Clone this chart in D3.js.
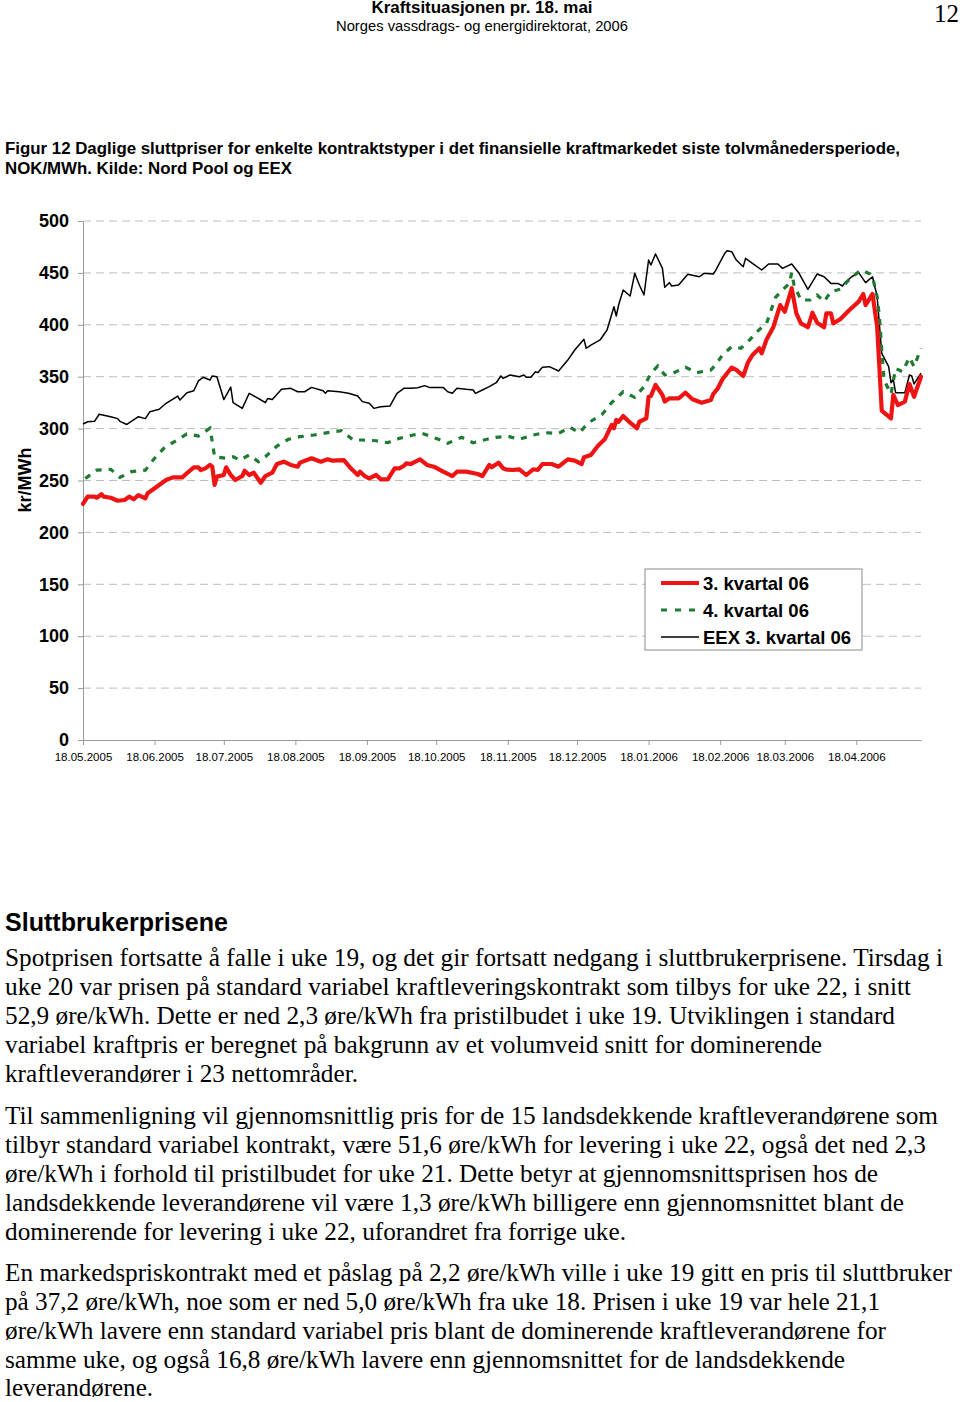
<!DOCTYPE html>
<html>
<head>
<meta charset="utf-8">
<script src="https://cdn.jsdelivr.net/npm/d3@7/dist/d3.min.js"></script>
<style>
  html, body { margin: 0; padding: 0; background: #fff; }
  svg { display: block; }
</style>
</head>
<body>
<script>
// ---------- DATA ----------
// x values: days after 18.05.2005; y values: NOK/MWh
const startDate = "18.05.2005";
const endDate = "16.05.2006";

const eexDays = [0,2,5,7,12,15,16,19,24,27,29,33,36,40,41,42,45,48,50,52,55,56,58,61,64,65,69,72,76,79,80,82,86,90,93,96,99,104,105,106,111,115,119,121,124,126,129,133,136,139,142,145,148,150,156,158,160,162,166,169,170,173,176,179,181,182,185,189,191,192,194,196,197,199,202,206,210,213,217,218,220,224,227,230,231,232,234,237,239,241,243,245,246,248,251,252,254,255,258,262,267,269,273,274,278,279,281,283,286,287,290,294,297,301,303,307,310,314,318,321,324,327,329,330,333,336,339,342,344,346,349,350,351,352,356,358,359,360,363];
const eexValues = [304.4,306.6,307,313.8,311.5,309.6,307,304,311.5,309.6,316.3,318.6,324.4,329.8,331.4,327.5,334.6,336.5,346,349.4,346.8,350.7,350,328,340,325,319.5,334,329,325,329,328,337.8,338.8,335.5,335.5,339.7,336.5,334,336.5,335.5,334,331.4,326,324.4,319.5,321,321.8,334,338.8,338.8,339.4,341.4,339.7,339.7,335.5,334,338.8,337.8,337.2,334,337.2,340.4,344.2,350.7,348.4,351.6,350,351.6,349.4,349.4,354.8,353.9,359,359.7,355.5,366,375.7,386,377.4,380.5,385.4,395,417.4,408.5,419,433.5,427.7,449.6,438.3,428.7,462.4,457.6,468.2,454.4,436.1,440.6,437.4,438.3,448.6,446.3,449.6,448.9,452.1,468.9,471.4,470.4,462.4,456,464,459.2,452.8,458.6,458.6,454.4,458.6,450.2,434.2,448.9,446.3,439.9,439.9,437.4,440.6,446.3,450.2,440.6,446.3,427,372.5,359.7,344.2,347.5,334.6,334.6,351.6,350.7,343,353.3];

const q3Days = [0,2,5,6,8,9,12,15,18,20,22,24,27,28,30,33,36,39,43,45,48,50,51,53,55,56,57,58,61,62,64,66,69,70,72,74,77,79,82,84,87,90,93,94,99,103,106,108,113,116,119,120,122,124,127,129,132,135,137,139,140,142,144,146,149,152,156,160,162,166,171,173,176,177,180,182,183,186,189,192,195,197,199,203,206,210,213,216,217,220,223,226,229,230,231,232,234,237,240,241,244,245,246,248,251,252,254,258,261,264,268,272,273,275,277,279,281,283,286,288,290,293,294,296,299,302,304,307,309,311,314,316,318,321,322,324,325,328,332,336,338,339,342,344,346,347,350,351,353,356,358,360,363];
const q3Values = [227.4,234.4,234.4,233.4,236.7,234.4,233.4,230.5,231.2,234.4,231.9,236,232.8,237.7,240.8,245.7,250.5,253,253,257,262.7,262.7,260,261.7,265,263.3,245.7,253.7,255.3,262.7,255.3,250.5,254.3,259.4,255.3,257.5,247.9,254.3,257.5,265.9,268.1,265,263.3,267.2,271.4,268.1,270.4,269.1,269.7,261.7,255.3,258.5,254.3,252.1,255.3,251.1,251.1,261.7,261.7,264,266.5,265.9,268.1,270.4,265,263.3,258.5,254.3,258.5,258.5,256.3,254.3,265,262.7,267.2,261.7,260.8,260.1,260.8,255.3,260.8,260.1,265.9,265.9,263.3,270.4,269.1,265.9,272.3,274.6,283.2,289.7,303.5,300.3,308.3,306.6,312.1,305.7,300.3,306.6,309.8,330.7,331.4,342,332.4,326,329.2,329.2,334.6,328.2,325,327.5,333.3,338.8,347.5,353.3,358.7,356.5,350.7,363.5,370.9,377.4,372.5,385.4,397.6,419,412.6,435.2,411,401.4,397.6,411.6,402,397.6,411,411,401.4,405.3,414.3,422.3,429.7,419,429.7,398.2,317.2,315.3,309.8,332.4,322.7,326,343,330.7,350];

const q4Days = [1,6,12,16,21,27,31,35,40,45,50,55,56,57,62,65,68,72,76,79,84,89,94,100,106,112,117,121,127,132,137,143,147,154,158,164,169,175,179,184,189,195,200,206,211,215,219,225,229,234,239,243,246,249,252,256,261,266,272,274,277,281,285,289,293,296,300,303,306,307,308,311,315,318,321,324,328,332,337,341,342,344,345,346,347,350,352,355,358,360,363];
const q4Values = [252,260,260.8,253,258.5,260,271.4,281,288,294.8,292.9,300.3,287.4,272.9,271.4,272.9,269.7,274.6,268.1,272.9,283.2,289.7,292.2,293.8,296.1,298,289,289,288.3,286.4,290.6,293.8,295.4,289.7,285.8,291.6,286.4,289.7,291.6,292.7,289.7,293.8,296.1,295.4,301.3,296.1,305.7,314,325,335.5,330.1,340.4,353.3,360.3,351.6,353.9,359,353.9,356.5,361.3,370.9,378.9,377.4,386,395.6,400.7,426.5,433.5,439.9,450.2,438.3,423.9,423.9,428.7,422.3,432,434.2,443.8,452.8,448.9,446.3,427,407.8,375.7,346.8,333.3,358,354.8,368.6,359.7,377.4];

const xTickLabels = ["18.05.2005","18.06.2005","18.07.2005","18.08.2005","18.09.2005","18.10.2005","18.11.2005","18.12.2005","18.01.2006","18.02.2006","18.03.2006","18.04.2006"];
const yTicks = [0,50,100,150,200,250,300,350,400,450,500];

const seriesNames = ["3. kvartal 06", "4. kvartal 06", "EEX 3. kvartal 06"];

const headerTitle = "Kraftsituasjonen pr. 18. mai";
const headerSub = "Norges vassdrags- og energidirektorat, 2006";
const pageNumber = "12";
const captionLines = [
  "Figur 12 Daglige sluttpriser for enkelte kontraktstyper i det finansielle kraftmarkedet siste tolvmånedersperiode,",
  "NOK/MWh. Kilde: Nord Pool og EEX"
];
const yAxisTitle = "kr/MWh";
const sectionHeading = "Sluttbrukerprisene";
const paragraphs = [
  ["Spotprisen fortsatte å falle i uke 19, og det gir fortsatt nedgang i sluttbrukerprisene. Tirsdag i",
   "uke 20 var prisen på standard variabel kraftleveringskontrakt som tilbys for uke 22, i snitt",
   "52,9 øre/kWh. Dette er ned 2,3 øre/kWh fra pristilbudet i uke 19. Utviklingen i standard",
   "variabel kraftpris er beregnet på bakgrunn av et volumveid snitt for dominerende",
   "kraftleverandører i 23 nettområder."],
  ["Til sammenligning vil gjennomsnittlig pris for de 15 landsdekkende kraftleverandørene som",
   "tilbyr standard variabel kontrakt, være 51,6 øre/kWh for levering i uke 22, også det ned 2,3",
   "øre/kWh i forhold til pristilbudet for uke 21. Dette betyr at gjennomsnittsprisen hos de",
   "landsdekkende leverandørene vil være 1,3 øre/kWh billigere enn gjennomsnittet blant de",
   "dominerende for levering i uke 22, uforandret fra forrige uke."],
  ["En markedspriskontrakt med et påslag på 2,2 øre/kWh ville i uke 19 gitt en pris til sluttbruker",
   "på 37,2 øre/kWh, noe som er ned 5,0 øre/kWh fra uke 18. Prisen i uke 19 var hele 21,1",
   "øre/kWh lavere enn standard variabel pris blant de dominerende kraftleverandørene for",
   "samme uke, og også 16,8 øre/kWh lavere enn gjennomsnittet for de landsdekkende",
   "leverandørene."]
];

// ---------- LAYOUT / STYLE ----------
const W = 960, H = 1402;
const SANS = "'Liberation Sans', Arial, Helvetica, sans-serif";
const SERIF = "'Liberation Serif', 'Times New Roman', Times, serif";
const plot = { left: 83, right: 921, top: 221, bottom: 740 };
const colors = { q3: "#ee1414", q4: "#1f7a32", eex: "#000000", grid: "#bdbdbd", axis: "#9a9a9a" };

const parseDM = d3.timeParse("%d.%m.%Y");
const fmtDM = d3.timeFormat("%d.%m.%Y");
const t0 = parseDM(startDate);
const toDate = d => d3.timeDay.offset(t0, d);

const svg = d3.select("body").append("svg")
  .attr("width", W).attr("height", H)
  .attr("viewBox", `0 0 ${W} ${H}`);
svg.append("rect").attr("width", W).attr("height", H).attr("fill", "#fff");

function txt(g, x, y, s, o = {}) {
  const t = g.append("text").attr("x", x).attr("y", y).text(s)
    .attr("font-family", o.family || SANS)
    .attr("font-size", o.size || 16)
    .attr("font-weight", o.weight || "normal")
    .attr("fill", o.fill || "#000")
    .attr("text-anchor", o.anchor || "start");
  if (o.len) t.attr("textLength", o.len).attr("lengthAdjust", "spacingAndGlyphs");
  return t;
}

// ---------- HEADER ----------
txt(svg, 482, 13, headerTitle, { size: 16, weight: "bold", anchor: "middle", len: 221 });
txt(svg, 482, 31, headerSub, { size: 15, anchor: "middle", len: 292 });
txt(svg, 959, 22, pageNumber, { size: 25, family: SERIF, anchor: "end" });

txt(svg, 5, 154, captionLines[0], { size: 17, weight: "bold", len: 895 });
txt(svg, 5, 174, captionLines[1], { size: 17, weight: "bold", len: 287 });

// ---------- CHART ----------
const x = d3.scaleTime().domain([t0, parseDM(endDate)]).range([plot.left, plot.right]);
const y = d3.scaleLinear().domain([0, 500]).range([plot.bottom, plot.top]);

const chart = svg.append("g");

// gridlines
chart.append("g").selectAll("line")
  .data(yTicks.filter(v => v > 0))
  .join("line")
  .attr("x1", plot.left).attr("x2", plot.right)
  .attr("y1", d => y(d)).attr("y2", d => y(d))
  .attr("stroke", colors.grid).attr("stroke-width", 1)
  .attr("stroke-dasharray", "8,5");

// y axis
const yAxis = chart.append("g")
  .attr("transform", `translate(${plot.left},0)`)
  .call(d3.axisLeft(y).tickValues(yTicks).tickSize(5).tickSizeOuter(0).tickPadding(9).tickFormat(d3.format("d")));
yAxis.select(".domain").attr("stroke", colors.axis);
yAxis.selectAll(".tick line").attr("stroke", colors.axis);
yAxis.selectAll("text").attr("font-family", SANS).attr("font-size", 18).attr("font-weight", "bold").attr("fill", "#000");

// x axis
const xAxis = chart.append("g")
  .attr("transform", `translate(0,${plot.bottom})`)
  .call(d3.axisBottom(x).tickValues(xTickLabels.map(parseDM)).tickSize(5).tickSizeOuter(0).tickPadding(8).tickFormat(fmtDM));
xAxis.select(".domain").attr("stroke", colors.axis);
xAxis.selectAll(".tick line").attr("stroke", colors.axis);
xAxis.selectAll("text").attr("font-family", SANS).attr("font-size", 11.5).attr("fill", "#000");

// y axis title
svg.append("text")
  .attr("transform", "translate(31,480) rotate(-90)")
  .attr("text-anchor", "middle")
  .attr("font-family", SANS).attr("font-size", 18).attr("font-weight", "bold")
  .text(yAxisTitle);

// lines
const line = d3.line().x(d => x(d.date)).y(d => y(d.value));
const mk = (days, vals) => days.map((d, i) => ({ date: toDate(d), value: vals[i] }));

chart.append("path").datum(mk(eexDays, eexValues))
  .attr("d", line).attr("fill", "none")
  .attr("stroke", colors.eex).attr("stroke-width", 1.5).attr("stroke-linejoin", "round");

chart.append("path").datum(mk(q4Days, q4Values))
  .attr("d", line).attr("fill", "none")
  .attr("stroke", colors.q4).attr("stroke-width", 3.2)
  .attr("stroke-dasharray", "6,7");

chart.append("path").datum(mk(q3Days, q3Values))
  .attr("d", line).attr("fill", "none")
  .attr("stroke", colors.q3).attr("stroke-width", 4.2)
  .attr("stroke-linejoin", "round").attr("stroke-linecap", "round");

// legend
const lg = svg.append("g");
lg.append("rect").attr("x", 645).attr("y", 569).attr("width", 217).attr("height", 81)
  .attr("fill", "#fff").attr("stroke", "#8a8a8a").attr("stroke-width", 1);
const legendItems = [
  { name: seriesNames[0], color: colors.q3, w: 4.2, dash: null, y: 583 },
  { name: seriesNames[1], color: colors.q4, w: 3.2, dash: "6,8", y: 610 },
  { name: seriesNames[2], color: colors.eex, w: 1.5, dash: null, y: 637 }
];
legendItems.forEach(it => {
  lg.append("line").attr("x1", 661).attr("x2", 699).attr("y1", it.y).attr("y2", it.y)
    .attr("stroke", it.color).attr("stroke-width", it.w)
    .attr("stroke-dasharray", it.dash);
  txt(lg, 703, it.y + 7, it.name, { size: 18.5, weight: "bold" });
});

// ---------- BODY TEXT ----------
txt(svg, 5, 931, sectionHeading, { size: 25, weight: "bold", len: 223 });

const baselines = [
  [966, 995, 1024, 1053, 1082],
  [1124, 1153, 1182, 1211, 1240],
  [1281, 1310, 1339, 1368, 1396]
];
const lineWidths = [
  [938, 906, 890, 817, 353],
  [933, 921, 873, 899, 621],
  [947, 875, 881, 840, 148]
];
paragraphs.forEach((p, pi) => {
  p.forEach((s, li) => {
    txt(svg, 5, baselines[pi][li], s, { size: 25, family: SERIF, len: lineWidths[pi][li] });
  });
});
</script>
</body>
</html>
